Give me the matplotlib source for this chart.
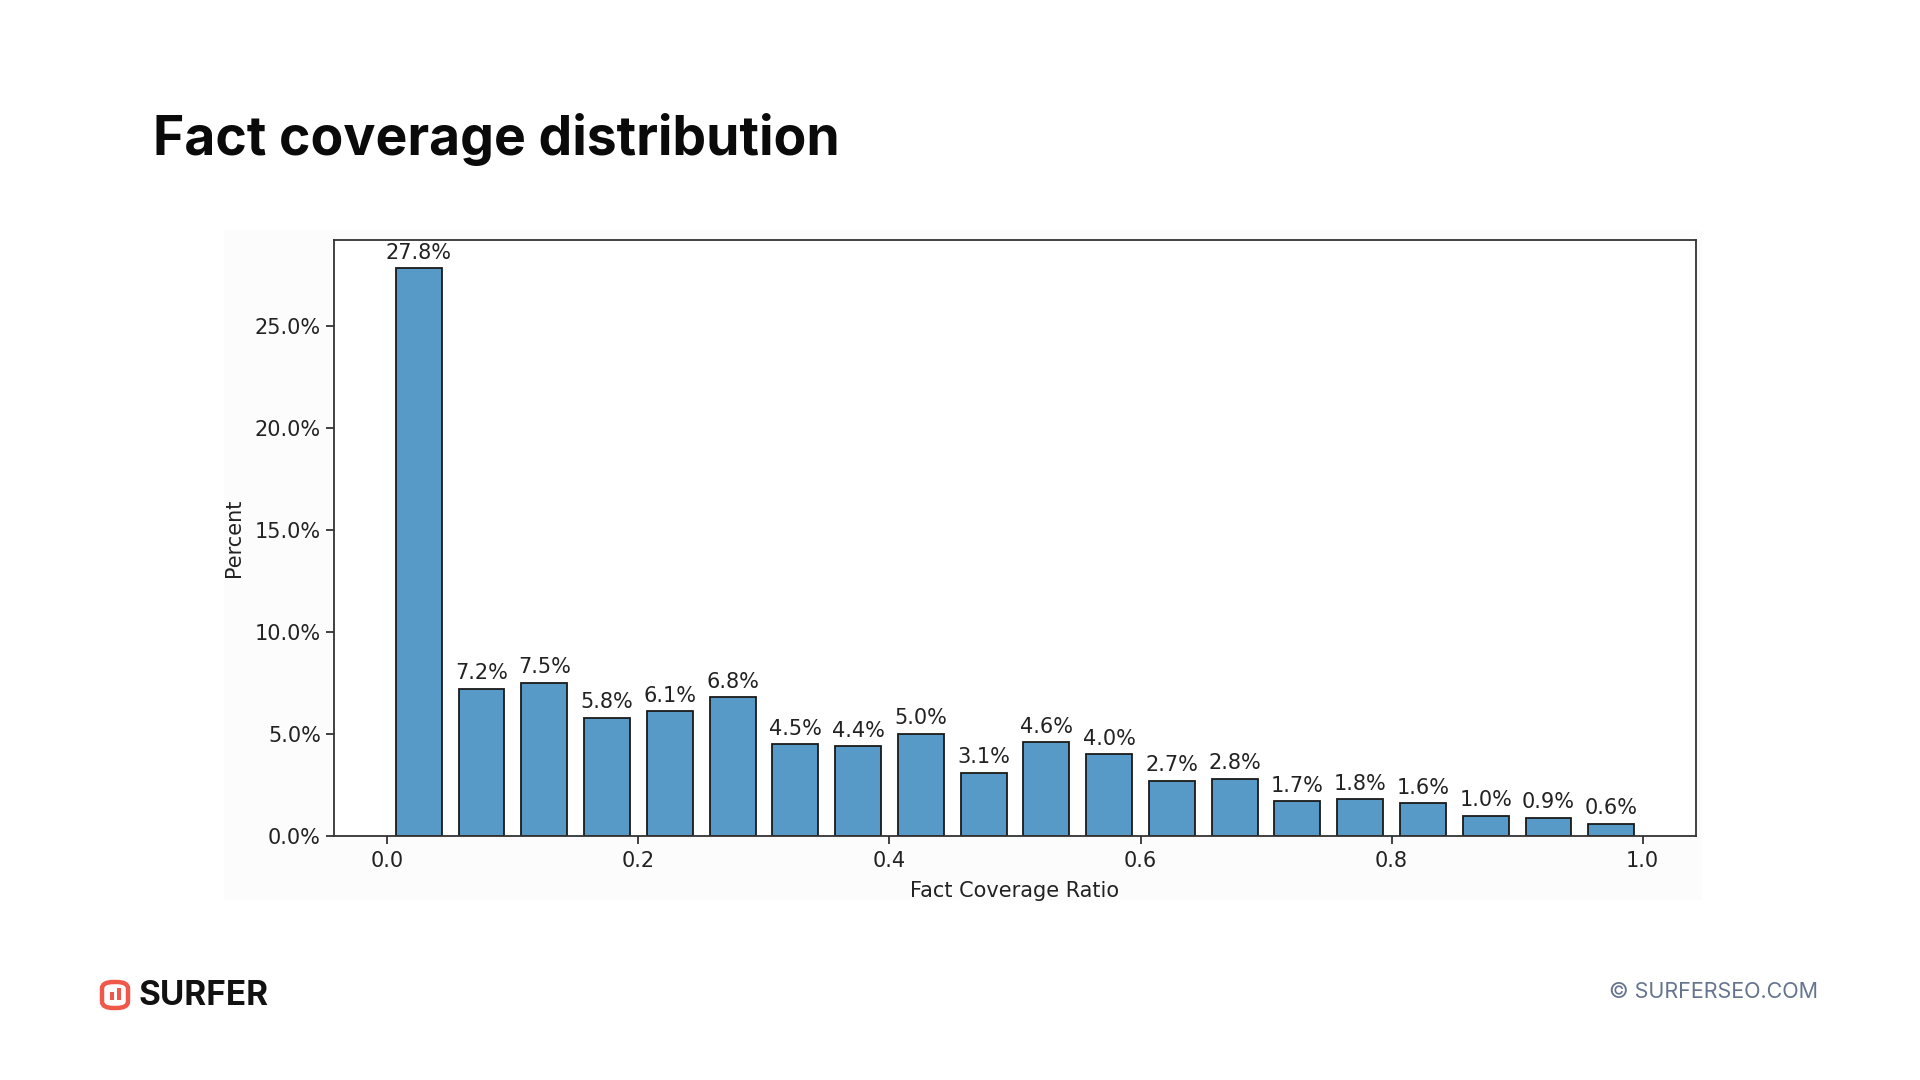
import numpy as np
import matplotlib.pyplot as plt
from matplotlib.patches import FancyBboxPatch, Rectangle
from matplotlib.ticker import PercentFormatter

# data
bin_left = [0.00, 0.05, 0.10, 0.15, 0.20, 0.25, 0.30, 0.35, 0.40, 0.45,
            0.50, 0.55, 0.60, 0.65, 0.70, 0.75, 0.80, 0.85, 0.90, 0.95]
percent = [27.8, 7.2, 7.5, 5.8, 6.1, 6.8, 4.5, 4.4, 5.0, 3.1,
           4.6, 4.0, 2.7, 2.8, 1.7, 1.8, 1.6, 1.0, 0.9, 0.6]
x_ticks = [0.0, 0.2, 0.4, 0.6, 0.8, 1.0]
y_ticks = [0, 5, 10, 15, 20, 25]

bin_w = 0.05
bar_color = '#5799c7'
txt = '#222222'

fig = plt.figure(figsize=(19.2, 10.8), dpi=100)
fig.patch.set_facecolor('white')

# faint backdrop of the embedded chart image
fig.patches.append(Rectangle((224 / 1920, 1 - 900 / 1080), (1702 - 224) / 1920, (900 - 230) / 1080,
                             transform=fig.transFigure, facecolor='#fcfcfc', edgecolor='none', zorder=-5))

ax = fig.add_axes([334 / 1920, 1 - 836 / 1080, (1696 - 334) / 1920, (836 - 240) / 1080])
ax.set_facecolor('white')
ax.set_zorder(2)

centers = np.array(bin_left) + bin_w / 2
bars = ax.bar(centers, percent, width=bin_w * 0.73, color=bar_color,
              edgecolor='#1a1a1a', linewidth=1.3, zorder=2)

for b, v in zip(bars, percent):
    ax.annotate(f'{v:.1f}%', (b.get_x() + b.get_width() / 2, b.get_height()),
                xytext=(0, 4), textcoords='offset points', ha='center', va='bottom',
                fontsize=15, color=txt)

ax.set_xticks(x_ticks)
ax.set_yticks(y_ticks)
ax.yaxis.set_major_formatter(PercentFormatter(decimals=1))
ax.tick_params(labelsize=15, colors=txt, length=6, width=1.2)
ax.tick_params(axis='x', pad=5)
for s in ax.spines.values():
    s.set_linewidth(1.3)
    s.set_color('#333333')

ax.set_xlabel('Fact Coverage Ratio', fontsize=15, color=txt, labelpad=7)
ax.set_ylabel('Percent', fontsize=15, color=txt, labelpad=8)

# slide title
fig.text(153 / 1920, 1 - 140 / 1080, 'Fact coverage distribution', fontsize=38.5,
         fontweight='bold', family='Inter', color='#0a0a0a', va='center', ha='left')

# footer logo
logo_c = '#f0584a'
fig.patches.append(FancyBboxPatch((102 / 1920, 1 - 1008 / 1080), 26 / 1920, 26 / 1080,
                                  boxstyle='round,pad=0,rounding_size=0.006',
                                  transform=fig.transFigure, facecolor='none',
                                  edgecolor=logo_c, linewidth=3.2))
fig.patches.append(Rectangle((110 / 1920, 1 - 1000 / 1080), 3.5 / 1920, 8 / 1080,
                             transform=fig.transFigure, facecolor=logo_c, edgecolor='none'))
fig.patches.append(Rectangle((117 / 1920, 1 - 1000 / 1080), 3.5 / 1920, 12 / 1080,
                             transform=fig.transFigure, facecolor=logo_c, edgecolor='none'))
fig.text(139 / 1920, 1 - 996 / 1080, 'SURFER', fontsize=24, fontweight='bold',
         family='Inter', color='#111111', va='center', ha='left')

fig.text(1818 / 1920, 1 - 992 / 1080, '© SURFERSEO.COM', fontsize=15.5,
         family='Inter', color='#66758f', va='center', ha='right')

fig.savefig('out.png', dpi=100)
